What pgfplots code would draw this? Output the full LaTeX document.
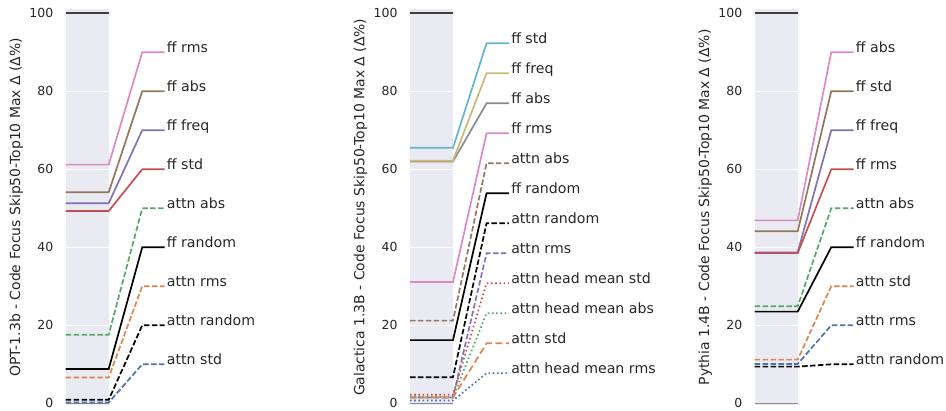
\documentclass[border=0pt]{standalone}
\usepackage{fontspec}
\setmainfont{DejaVu Sans}
\usepackage{pgfplots}
\pgfplotsset{compat=1.18}
\definecolor{bg}{HTML}{EAEAF2}
\definecolor{txt}{HTML}{262626}
\definecolor{sblue}{HTML}{4C72B0}
\definecolor{sorange}{HTML}{DD8452}
\definecolor{sgreen}{HTML}{55A868}
\definecolor{sred}{HTML}{C44E52}
\definecolor{spurple}{HTML}{8172B3}
\definecolor{sbrown}{HTML}{937860}
\definecolor{spink}{HTML}{DA8BC3}
\definecolor{sgray}{HTML}{8C8C8C}
\definecolor{solive}{HTML}{CCB974}
\definecolor{scyan}{HTML}{64B5CD}
\pgfplotsset{
  panel/.style={
    scale only axis, width=43bp, height=395.85bp,
    xmin=0, xmax=1, ymin=-0.5, ymax=101,
    axis background/.style={fill=bg},
    axis line style={draw=none},
    ytick={0,20,40,60,80,100}, xtick=\empty,
    ymajorgrids, grid style={white, line width=1.2bp},
    major tick length=0pt,
    clip=false,
    tick label style={font=\fontsize{12.5}{14}\selectfont, text=txt},
    yticklabel style={xshift=-9bp},
    /pgf/number format/assume math mode=true,
    label style={font=\fontsize{14}{16}\selectfont, text=txt},
    ylabel style={at={(axis description cs:-1.15,0.5)}, anchor=center},
  },
  ln/.style={line width=1.7bp},
  dsh/.style={line width=1.7bp, dash pattern=on 5.5bp off 2.4bp},
  dot/.style={line width=1.7bp, dash pattern=on 1.6bp off 2.6bp},
  ldsh/.style={line width=1.7bp, dash pattern=on 7bp off 3.5bp},
}
\newcommand{\series}[4]{%
  \addplot[#1] coordinates {(0,#2) (1,#2) (1.78,#3) (2.3,#3)};
  \node[anchor=base west, inner sep=0pt, font=\fontsize{14.2}{16}\selectfont, text=txt] at (axis cs:2.35,#3) {#4};
}
\newcommand{\baselines}{%
  \addplot[line width=1.5bp, sgray] coordinates {(0,0) (1,0)};
  \addplot[line width=2.4bp, black!75] coordinates {(0,100) (1,100)};
}
\begin{document}
\begin{tikzpicture}
\useasboundingbox (0,0) rectangle (946bp,411bp);
% Panel 1
\begin{axis}[panel, at={(65.7bp,5.75bp)}, anchor=south west,
  ylabel={OPT-1.3b - Code Focus Skip50-Top10 Max Δ (Δ\%)}]
\baselines
\series{ln, spink}{61.2}{90}{ff rms}
\series{ln, sbrown}{54.1}{80}{ff abs}
\series{ln, spurple}{51.3}{70}{ff freq}
\series{ln, sred}{49.3}{60}{ff std}
\series{dsh, sgreen}{17.6}{50}{attn abs}
\series{ln, black}{8.8}{40}{ff random}
\series{dsh, sorange}{6.6}{30}{attn rms}
\series{dsh, black}{0.9}{20}{attn random}
\series{dsh, sblue}{0.2}{10}{attn std}
\end{axis}
% Panel 2
\begin{axis}[panel, at={(410bp,5.75bp)}, anchor=south west,
  ylabel={Galactica 1.3B - Code Focus Skip50-Top10 Max Δ (Δ\%)}]
\baselines
\series{ln, scyan}{65.5}{92.31}{ff std}
\series{ln, sgray}{62.0}{76.92}{ff abs}
\series{ln, solive}{62.2}{84.62}{ff freq}
\series{ln, spink}{31.1}{69.23}{ff rms}
\series{dsh, sbrown}{21.2}{61.54}{attn abs}
\series{ln, black}{16.2}{53.85}{ff random}
\series{dsh, black}{6.7}{46.15}{attn random}
\series{dsh, spurple}{1.5}{38.46}{attn rms}
\series{dot, sred}{2.2}{30.77}{attn head mean std}
\series{dot, sgreen}{1.6}{23.08}{attn head mean abs}
\series{ldsh, sorange}{1.5}{15.38}{attn std}
\series{dot, sblue}{0.7}{7.69}{attn head mean rms}
\end{axis}
% Panel 3
\begin{axis}[panel, at={(754.7bp,5.75bp)}, anchor=south west,
  ylabel={Pythia 1.4B - Code Focus Skip50-Top10 Max Δ (Δ\%)}]
\baselines
\series{ln, spink}{46.9}{90}{ff abs}
\series{ln, sbrown}{44.1}{80}{ff std}
\series{ln, spurple}{38.7}{70}{ff freq}
\series{ln, sred}{38.5}{60}{ff rms}
\series{dsh, sgreen}{24.9}{50}{attn abs}
\series{ln, black}{23.5}{40}{ff random}
\series{dsh, sorange}{11.2}{30}{attn std}
\series{dsh, sblue}{10.1}{20}{attn rms}
\series{dsh, black}{9.4}{10}{attn random}
\end{axis}
\end{tikzpicture}
\end{document}
